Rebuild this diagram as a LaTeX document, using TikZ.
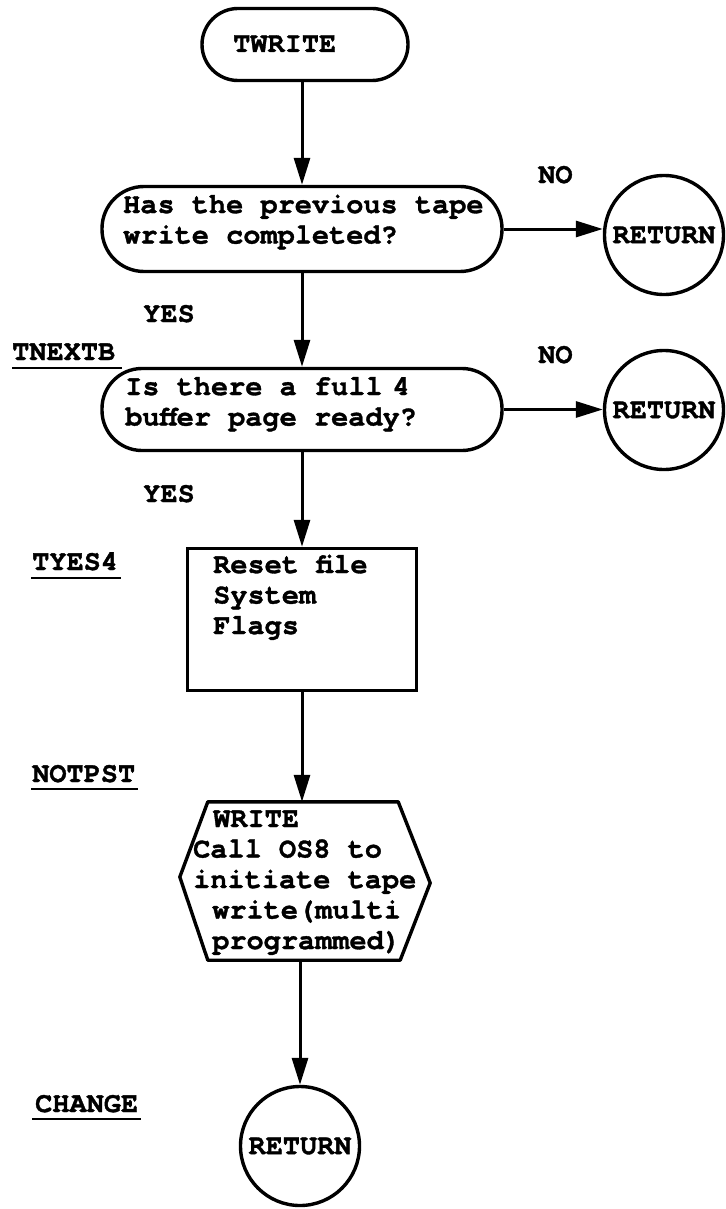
\documentclass[tikz,border=0pt]{standalone}
\usepackage{fontspec}
\newfontfamily\tw[BoldFeatures={FakeBold=1.2}]{TeX Gyre Cursor}
\usetikzlibrary{arrows.meta,calc}
\begin{document}
\begin{tikzpicture}[x=1pt,y=-1pt,
  shp/.style={draw, line width=3.4pt, inner sep=0},
  tfont/.style={font=\tw\bfseries\fontsize{28.6}{30.5}\selectfont},
  txt/.style={tfont, inner sep=0, anchor=base west, align=left},
  arr/.style={line width=3pt, -{Triangle[length=27pt,width=16pt]}},
  ul/.style={line width=2.4pt}]
\useasboundingbox (0,0) rectangle (725,1209);
\fill[white] (0,0) rectangle (725,1209);

% shapes (text nodes anchored at the baseline of their last line)
\node[shp, rounded corners=36pt, minimum width=206pt, minimum height=72pt] (tw) at (305,44.5) {};
\node[txt] (twt) at (233,52) {TWRITE};

\node[shp, rounded corners=42pt, minimum width=400pt, minimum height=85pt] (d1) at (302,229) {};
\node[txt] (d1t) at (123,243.5) {Has the previous tape\\write completed?};

\node[shp, rounded corners=40pt, minimum width=400pt, minimum height=82pt] (d2) at (302,409.5) {};
\node[txt] (d2t) at (125,425.5) {Is there a full\kern10pt 4\\buffer page ready?};

\node[shp, minimum width=229pt, minimum height=142pt] (box) at (302,619.5) {};
\node[txt] (boxt) at (213,634) {Reset file\\System\\Flags};

\node[inner sep=0, minimum width=250pt, minimum height=158pt] (hex) at (305,881) {};
\draw[line width=3.4pt, line join=round]
  ($(hex.north west)+(28,0)$) -- ($(hex.north east)+(-32,0)$) -- ($(hex.east)+(0,2)$)
  -- ($(hex.south east)+(-30,0)$) -- ($(hex.south west)+(28,0)$) -- ($(hex.west)+(0,-4)$) -- cycle;
\node[txt] (hext) at (193,949) {\hspace*{20pt}WRITE\\Call OS8 to\\initiate tape\\\hspace*{19pt}write(multi\\\hspace*{19pt}programmed)};

\node[shp, circle, minimum size=119pt, tfont] (r1) at (664,235) {RETURN};
\node[shp, circle, minimum size=119pt, tfont] (r2) at (664,410) {RETURN};
\node[shp, circle, minimum size=119pt, tfont] (r3) at (300,1146) {RETURN};

% labels
\node[txt] (no1) at (538,183) {NO};
\node[txt] (no2) at (538,363) {NO};
\node[txt] (yes1) at (143,322) {YES};
\node[txt] (yes2) at (143,502) {YES};
\node[txt] (tnextb) at (12,360) {TNEXTB};
\node[txt] (tyes4) at (32,570) {TYES4};
\node[txt] (notpst) at (32,782) {NOTPST};
\node[txt] (change) at (35,1112) {CHANGE};

\draw[ul] ([yshift=-8pt]tnextb.base west) -- ([xshift=7pt,yshift=-8pt]tnextb.base east);
\draw[ul] ([xshift=-1pt,yshift=-8pt]tyes4.base west) -- ([xshift=3pt,yshift=-8pt]tyes4.base east);
\draw[ul] ([xshift=-1pt,yshift=-7pt]notpst.base west) -- ([xshift=3pt,yshift=-7pt]notpst.base east);
\draw[ul] ([xshift=-3pt,yshift=-7pt]change.base west) -- ([xshift=3pt,yshift=-7pt]change.base east);

% connectors
\draw[arr] (tw.south -| d1.north) -- (d1.north);
\draw[arr] (d1.south) -- (d2.north);
\draw[arr] (d2.south) -- (box.north);
\draw[arr] (box.south) -- (box.south |- hex.north);
\draw[arr] (hex.south -| r3.north) -- (r3.north);
\draw[arr] (d1.east) -- (d1.east -| r1.west);
\draw[arr] (d2.east) -- (d2.east -| r2.west);
\end{tikzpicture}
\end{document}
